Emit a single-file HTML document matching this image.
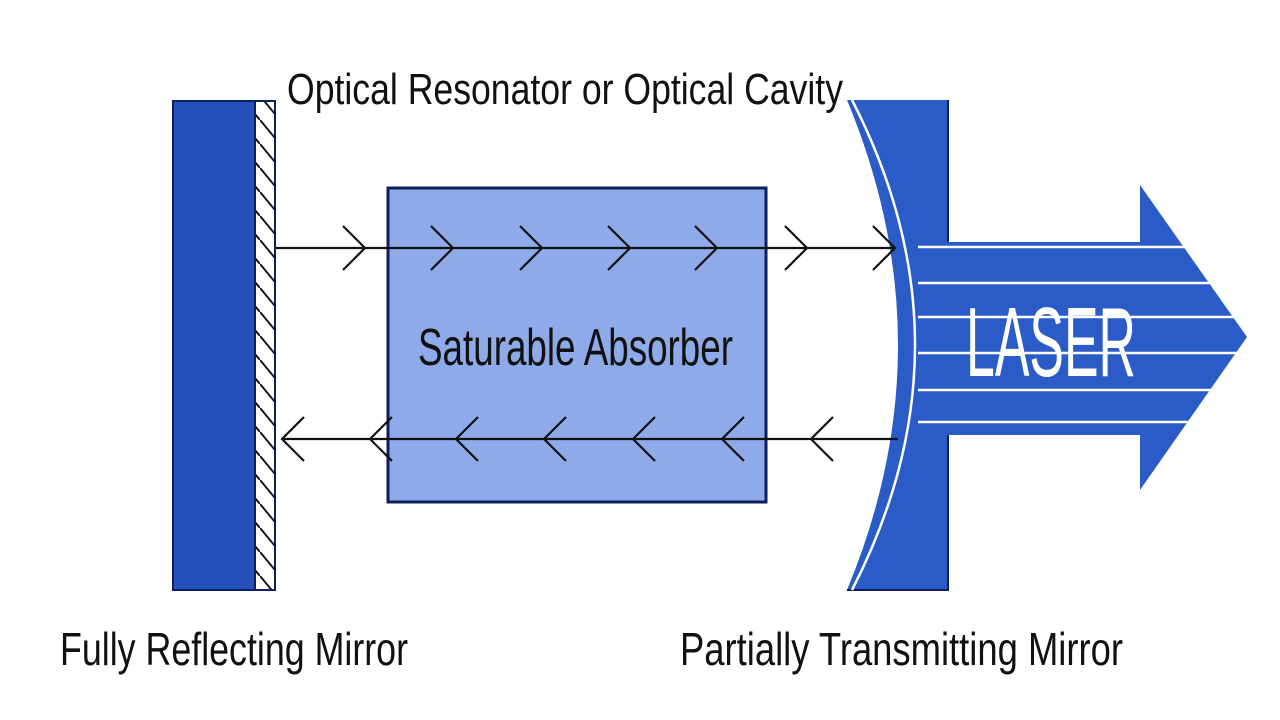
<!DOCTYPE html>
<html><head><style>body{margin:0;background:#fff}svg{display:block}</style></head>
<body>
<svg width="1280" height="720" viewBox="0 0 1280 720" xmlns="http://www.w3.org/2000/svg" font-family="Liberation Sans, sans-serif">
<defs>
<pattern id="h" width="20" height="24" patternUnits="userSpaceOnUse">
<path d="M0,0 L20,24" stroke="#111" stroke-width="2"/>
</pattern>
<clipPath id="arrowClip"><path d="M918,242 L1140,242 L1140,185 L1247,337 L1140,490 L1140,435 L918,435 Z"/></clipPath>
</defs>
<!-- left mirror -->
<rect x="173" y="101" width="82" height="489" fill="#2450BC" stroke="#0d1f5c" stroke-width="2"/>
<rect x="255" y="101" width="20" height="489" fill="#fff"/>
<rect x="255" y="101" width="20" height="489" fill="url(#h)"/>
<rect x="255" y="101" width="20" height="489" fill="none" stroke="#0d1f5c" stroke-width="2"/>
<!-- absorber -->
<rect x="388" y="188" width="378" height="314" fill="#8EAAE8" stroke="#0d1f5c" stroke-width="3"/>
<!-- right mirror -->
<path d="M847,100 L948,100 L948,590 L847,590 Q949,345 847,100 Z" fill="#2A5BC6"/>
<path d="M948,100 L948,590 L847,590" fill="none" stroke="#0d1f5c" stroke-width="2"/>
<!-- arrow -->
<path d="M918,242 L1140,242 L1140,185 L1247,337 L1140,490 L1140,435 L918,435 Z" fill="#2A5BC6"/>
<g clip-path="url(#arrowClip)" stroke="#fff" stroke-width="2.5">
<line x1="900" y1="247" x2="1260" y2="247"/>
<line x1="900" y1="283" x2="1260" y2="283"/>
<line x1="900" y1="317" x2="1260" y2="317"/>
<line x1="900" y1="353" x2="1260" y2="353"/>
<line x1="900" y1="390" x2="1260" y2="390"/>
<line x1="900" y1="422" x2="1260" y2="422"/>
</g>
<path d="M852,100 Q978,345 852,590" fill="none" stroke="#fff" stroke-width="2.5"/>
<!-- rays -->
<g stroke="#111" stroke-width="2.2" fill="none">
<line x1="276" y1="248" x2="895" y2="248"/>
<line x1="282" y1="439" x2="898" y2="439"/>
<path d="M343,226 L365,248 L343,270"/>
<path d="M431,226 L453,248 L431,270"/>
<path d="M520,226 L542,248 L520,270"/>
<path d="M608,226 L630,248 L608,270"/>
<path d="M695,226 L717,248 L695,270"/>
<path d="M785,226 L807,248 L785,270"/>
<path d="M873,226 L895,248 L873,270"/>
<path d="M304,417 L282,439 L304,461"/>
<path d="M392,417 L370,439 L392,461"/>
<path d="M478,417 L456,439 L478,461"/>
<path d="M566,417 L544,439 L566,461"/>
<path d="M655,417 L633,439 L655,461"/>
<path d="M744,417 L722,439 L744,461"/>
<path d="M833,417 L811,439 L833,461"/>
</g>
<!-- text -->
<text x="287" y="104" font-size="44" textLength="556" lengthAdjust="spacingAndGlyphs" fill="#111">Optical Resonator  or Optical Cavity</text>
<text x="418" y="365" font-size="52" textLength="315" lengthAdjust="spacingAndGlyphs" fill="#111">Saturable Absorber</text>
<text x="966" y="376" font-size="98" textLength="170" lengthAdjust="spacingAndGlyphs" fill="#fff">LASER</text>
<text x="60" y="665" font-size="46" textLength="348" lengthAdjust="spacingAndGlyphs" fill="#111">Fully Reflecting Mirror</text>
<text x="680" y="665" font-size="46" textLength="443" lengthAdjust="spacingAndGlyphs" fill="#111">Partially Transmitting Mirror</text>
</svg>
</body></html>
